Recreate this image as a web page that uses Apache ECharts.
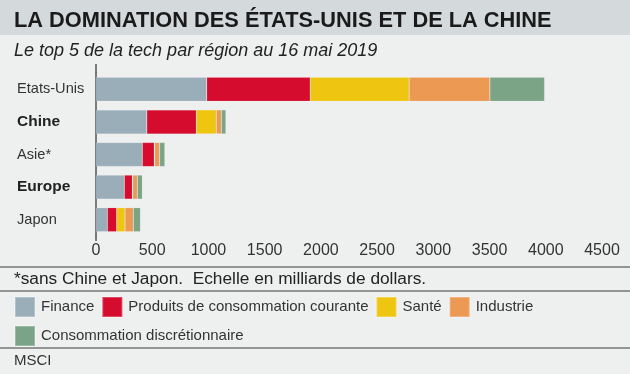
<!DOCTYPE html>
<html><head><meta charset="utf-8">
<script src="https://cdn.jsdelivr.net/npm/echarts@6/dist/echarts.min.js"></script>
<style>html,body{margin:0;padding:0;background:#eef0ef;}#c{width:630px;height:374px;}</style>
</head><body><div id="c"></div>
<script>
const categories = ['Etats-Unis', 'Chine', 'Asie*', 'Europe', 'Japon'];
const boldCategories = ['Chine', 'Europe'];
const seriesNames = ['Finance', 'Produits de consommation courante', 'Santé', 'Industrie', 'Consommation discrétionnaire'];
const finance = [985, 452, 412, 252, 101];
const produits = [920, 440, 106, 71, 83];
const sante = [880, 178, 4, 4, 74];
const industrie = [718, 45, 44, 40, 74];
const discretionnaire = [486, 40, 46, 45, 63];
const xTicks = [0, 500, 1000, 1500, 2000, 2500, 3000, 3500, 4000, 4500];
const colors = ['#9aaeba', '#d50c2e', '#eec510', '#ec9954', '#7ba486'];
const values = [finance, produits, sante, industrie, discretionnaire];

const FONT = '"Liberation Sans", Arial, sans-serif';
const chart = echarts.init(document.getElementById('c'), null, {renderer: 'canvas'});
const gridLeft = 96, gridTop = 73, gridBottom = 138;
chart.setOption({
  backgroundColor: '#eef0ef',
  animation: false,
  color: colors,
  textStyle: {fontFamily: FONT},
  grid: {left: gridLeft, right: 28, top: gridTop, bottom: gridBottom, containLabel: false},
  xAxis: {
    type: 'value', min: xTicks[0], max: xTicks[xTicks.length - 1], interval: 500,
    axisLine: {show: false}, axisTick: {show: false}, splitLine: {show: false},
    axisLabel: {color: '#333', fontSize: 16, fontFamily: FONT, margin: 7, formatter: v => String(v)}
  },
  yAxis: {
    type: 'category', data: categories, inverse: true,
    axisLine: {show: true, lineStyle: {color: '#555', width: 1.5}},
    axisTick: {show: false},
    axisLabel: {
      margin: 79, align: 'left', color: '#333', fontSize: 14.6, fontFamily: FONT,
      formatter: v => boldCategories.includes(v) ? '{b|' + v + '}' : v,
      rich: {b: {fontWeight: 'bold', fontSize: 15.5, color: '#222', fontFamily: FONT}}
    }
  },
  legend: {
    left: 14, top: 296, width: 600, padding: 0, itemWidth: 20, itemHeight: 20, itemGap: 7,
    icon: 'rect', selectedMode: false,
    textStyle: {fontSize: 15, lineHeight: 20, color: '#333', fontFamily: FONT, padding: [0, 0, 0, 1]},
    data: seriesNames
  },
  series: seriesNames.map((n, i) => ({
    name: n, type: 'bar', stack: 'total', data: values[i], barWidth: 24,
    itemStyle: {color: colors[i], borderColor: 'rgba(255,255,255,0.25)', borderWidth: 0.5}
  })),
  graphic: [
    {type: 'rect', shape: {x: 0, y: 0, width: 630, height: 35}, style: {fill: '#d4dadc'}, z: -1},
    {type: 'text', left: 14, top: 10, style: {text: 'LA DOMINATION DES ÉTATS-UNIS ET DE LA CHINE', font: 'bold 21.8px ' + FONT, fill: '#1a1a1a'}},
    {type: 'text', left: 14, top: 42, style: {text: 'Le top 5 de la tech par région au 16 mai 2019', font: 'italic 18px ' + FONT, fill: '#222'}},
    {type: 'line', shape: {x1: gridLeft, y1: 64, x2: gridLeft, y2: gridTop}, style: {stroke: '#555', lineWidth: 1.5}},
    {type: 'line', shape: {x1: gridLeft, y1: 374 - gridBottom, x2: gridLeft, y2: 241}, style: {stroke: '#555', lineWidth: 1.5}},
    {type: 'line', shape: {x1: 0, y1: 267, x2: 630, y2: 267}, style: {stroke: '#777', lineWidth: 1.5}},
    {type: 'text', left: 14, top: 271, style: {text: '*sans Chine et Japon.  Echelle en milliards de dollars.', font: '17.3px ' + FONT, fill: '#222'}},
    {type: 'line', shape: {x1: 0, y1: 291, x2: 630, y2: 291}, style: {stroke: '#777', lineWidth: 1.5}},
    {type: 'line', shape: {x1: 0, y1: 348, x2: 630, y2: 348}, style: {stroke: '#777', lineWidth: 1.5}},
    {type: 'text', left: 14, top: 353, style: {text: 'MSCI', font: '15px ' + FONT, fill: '#333'}}
  ]
});
</script></body></html>
